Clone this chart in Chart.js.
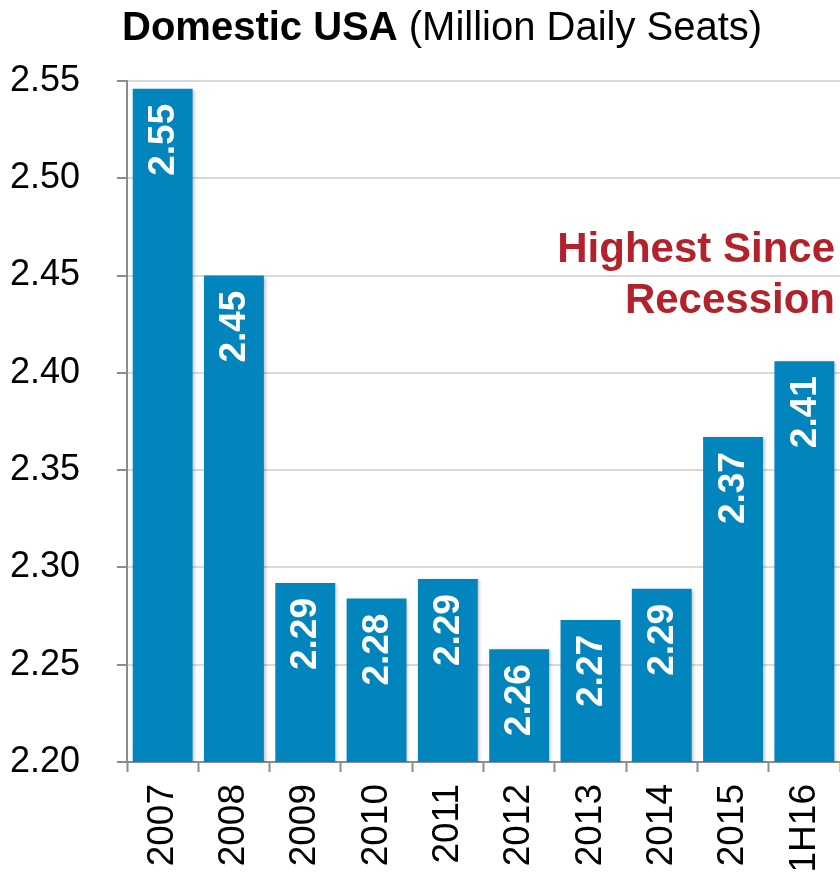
<!DOCTYPE html>
<html>
<head>
<meta charset="utf-8">
<script src="https://cdn.jsdelivr.net/npm/chart.js@4"></script>
<style>
  html, body { margin:0; padding:0; background:#fff; }
  #wrap { width:840px; height:873px; }
</style>
</head>
<body>
<div id="wrap"><canvas id="seatsChart" width="840" height="873"></canvas></div>
<script>
// chart data
const years = ['2007','2008','2009','2010','2011','2012','2013','2014','2015','1H16'];
const seats = [2.546, 2.450, 2.292, 2.284, 2.294, 2.258, 2.273, 2.289, 2.367, 2.406];
const yTicks = [2.20, 2.25, 2.30, 2.35, 2.40, 2.45, 2.50, 2.55];
const titleBold = 'Domestic USA';
const titleRest = ' (Million Daily Seats)';
const noteLines = ['Highest Since', 'Recession'];

const FONT = '"Liberation Sans", Arial, sans-serif';
const BLUE = '#0285BD';
const RED = '#B3212B';

function $(id){ return document.getElementById(id); }

// title with mixed weights
const titlePlugin = {
  id: 'mixedTitle',
  afterDraw(chart){
    const ctx = chart.ctx;
    ctx.save();
    ctx.fillStyle = '#000';
    ctx.textBaseline = 'alphabetic';
    ctx.font = 'bold 40px ' + FONT;
    let x = 122;
    ctx.fillText(titleBold, x, 40);
    x += ctx.measureText(titleBold).width;
    ctx.font = '40px ' + FONT;
    ctx.fillText(titleRest, x, 40);
    ctx.restore();
  }
};

// soft shadow under bars
const shadowPlugin = {
  id: 'barShadow',
  beforeDatasetsDraw(chart){
    const ctx = chart.ctx;
    ctx.save();
    ctx.shadowColor = 'rgba(0,0,0,0.22)';
    ctx.shadowBlur = 3;
    ctx.shadowOffsetX = 2;
    ctx.shadowOffsetY = 1;
  },
  afterDatasetsDraw(chart){ chart.ctx.restore(); }
};

// rotated value labels inside the bars + the red note
const labelPlugin = {
  id: 'valueLabels',
  afterDatasetsDraw(chart){
    const ctx = chart.ctx;
    const meta = chart.getDatasetMeta(0);
    ctx.save();
    ctx.fillStyle = '#fff';
    ctx.font = 'bold 37px ' + FONT;
    ctx.textAlign = 'right';
    ctx.textBaseline = 'middle';
    meta.data.forEach((bar, i)=>{
      ctx.save();
      ctx.translate(bar.x + 1, bar.y + 15);
      ctx.rotate(-Math.PI/2);
      ctx.fillText(seats[i].toFixed(2), 0, 0);
      ctx.restore();
    });
    // note
    const ys = chart.scales.y;
    ctx.fillStyle = RED;
    ctx.font = 'bold 42px ' + FONT;
    ctx.textAlign = 'right';
    ctx.textBaseline = 'alphabetic';
    ctx.fillText(noteLines[0], 835, ys.getPixelForValue(2.457));
    ctx.fillText(noteLines[1], 835, ys.getPixelForValue(2.4308));
    ctx.restore();
  }
};

new Chart($('seatsChart').getContext('2d'), {
  type: 'bar',
  data: {
    labels: years,
    datasets: [{
      data: seats,
      backgroundColor: BLUE,
      borderWidth: 0,
      categoryPercentage: 1,
      barPercentage: 0.84
    }]
  },
  options: {
    responsive: false,
    animation: false,
    devicePixelRatio: 1,
    layout: { padding: { top: 81, right: 0, bottom: 0, left: 0 } },
    plugins: { legend: { display:false }, tooltip: { enabled:false }, title: { display:false } },
    scales: {
      x: {
        grid: { drawOnChartArea:false, drawTicks:true, tickLength:10, tickColor:'#8c8c8c', tickWidth:2, offset:true },
        border: { color:'#8c8c8c', width:2 },
        ticks: { color:'#000', font:{ family:FONT, size:37 }, minRotation:90, maxRotation:90, padding:12, autoSkip:false },
        afterFit(s){ s.height = 873 - 762; s.paddingLeft = 0; s.paddingRight = 0; }
      },
      y: {
        min: 2.2,
        max: 2.55,
        afterBuildTicks(s){ s.ticks = yTicks.map(v=>({ value:v })); },
        grid: { color:'#d9d9d9', lineWidth:2, tickLength:10, tickColor:'#8c8c8c', tickWidth:2 },
        border: { color:'#8c8c8c', width:2 },
        ticks: { color:'#000', font:{ family:FONT, size:36 }, padding:37, callback:v=>Number(v).toFixed(2) },
        afterFit(s){ s.width = 127; s.paddingTop = 0; s.paddingBottom = 0; }
      }
    }
  },
  plugins: [titlePlugin, shadowPlugin, labelPlugin]
});
</script>
</body>
</html>
